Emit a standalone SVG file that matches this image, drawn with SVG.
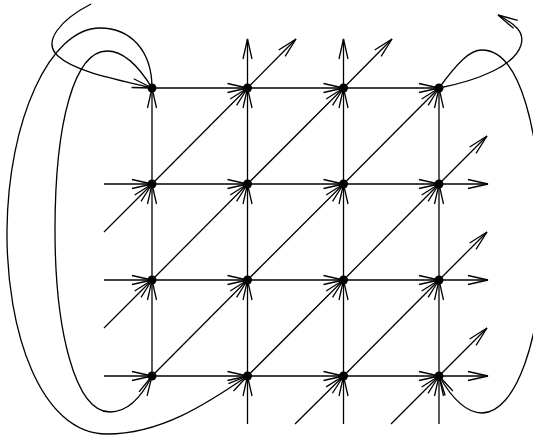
<svg xmlns="http://www.w3.org/2000/svg" width="533" height="437" viewBox="0 0 533 437">
<defs>
<marker id="ah" markerUnits="userSpaceOnUse" markerWidth="30" markerHeight="30" refX="0" refY="0" orient="auto" overflow="visible" viewBox="-25 -10 30 20">
<path d="M-20,-4.5 L0,0 L-20,4.5" fill="none" stroke="#000" stroke-width="1.3"/>
</marker>
<style>
.e{stroke:#000;stroke-width:1.3;fill:none;marker-end:url(#ah)}
.c{stroke:#000;stroke-width:1.3;fill:none}
.n{fill:#000}
</style>
</defs>
<rect width="533" height="437" fill="#fff"/>
<g id="connectors">
<line class="e" x1="152" y1="88" x2="247.5" y2="88"/>
<line class="e" x1="247.5" y1="88" x2="343.5" y2="88"/>
<line class="e" x1="343.5" y1="88" x2="439" y2="88"/>
<line class="e" x1="104" y1="184" x2="152" y2="184"/>
<line class="e" x1="152" y1="184" x2="247.5" y2="184"/>
<line class="e" x1="247.5" y1="184" x2="343.5" y2="184"/>
<line class="e" x1="343.5" y1="184" x2="439" y2="184"/>
<line class="e" x1="439" y1="184" x2="488" y2="184"/>
<line class="e" x1="104" y1="280" x2="152" y2="280"/>
<line class="e" x1="152" y1="280" x2="247.5" y2="280"/>
<line class="e" x1="247.5" y1="280" x2="343.5" y2="280"/>
<line class="e" x1="343.5" y1="280" x2="439" y2="280"/>
<line class="e" x1="439" y1="280" x2="488" y2="280"/>
<line class="e" x1="104" y1="376" x2="152" y2="376"/>
<line class="e" x1="152" y1="376" x2="247.5" y2="376"/>
<line class="e" x1="247.5" y1="376" x2="343.5" y2="376"/>
<line class="e" x1="343.5" y1="376" x2="439" y2="376"/>
<line class="e" x1="439" y1="376" x2="488" y2="376"/>
<line class="e" x1="152" y1="376" x2="152" y2="280"/>
<line class="e" x1="152" y1="280" x2="152" y2="184"/>
<line class="e" x1="152" y1="184" x2="152" y2="88"/>
<line class="e" x1="247.5" y1="424" x2="247.5" y2="376"/>
<line class="e" x1="247.5" y1="376" x2="247.5" y2="280"/>
<line class="e" x1="247.5" y1="280" x2="247.5" y2="184"/>
<line class="e" x1="247.5" y1="184" x2="247.5" y2="88"/>
<line class="e" x1="247.5" y1="88" x2="247.5" y2="39"/>
<line class="e" x1="343.5" y1="424" x2="343.5" y2="376"/>
<line class="e" x1="343.5" y1="376" x2="343.5" y2="280"/>
<line class="e" x1="343.5" y1="280" x2="343.5" y2="184"/>
<line class="e" x1="343.5" y1="184" x2="343.5" y2="88"/>
<line class="e" x1="343.5" y1="88" x2="343.5" y2="39"/>
<line class="e" x1="439" y1="424" x2="439" y2="376"/>
<line class="e" x1="439" y1="376" x2="439" y2="280"/>
<line class="e" x1="439" y1="280" x2="439" y2="184"/>
<line class="e" x1="439" y1="184" x2="439" y2="88"/>
<line class="e" x1="104" y1="232" x2="152" y2="184"/>
<line class="e" x1="152" y1="184" x2="247.5" y2="88"/>
<line class="e" x1="247.5" y1="88" x2="296" y2="39"/>
<line class="e" x1="104" y1="328" x2="152" y2="280"/>
<line class="e" x1="152" y1="280" x2="247.5" y2="184"/>
<line class="e" x1="247.5" y1="184" x2="343.5" y2="88"/>
<line class="e" x1="343.5" y1="88" x2="392" y2="39"/>
<line class="e" x1="152" y1="376" x2="247.5" y2="280"/>
<line class="e" x1="247.5" y1="280" x2="343.5" y2="184"/>
<line class="e" x1="343.5" y1="184" x2="439" y2="88"/>
<line class="e" x1="247.5" y1="376" x2="343.5" y2="280"/>
<line class="e" x1="343.5" y1="280" x2="439" y2="184"/>
<line class="e" x1="439" y1="184" x2="487" y2="136"/>
<line class="e" x1="295" y1="424" x2="343.5" y2="376"/>
<line class="e" x1="343.5" y1="376" x2="439" y2="280"/>
<line class="e" x1="439" y1="280" x2="487" y2="232"/>
<line class="e" x1="391" y1="424" x2="439" y2="376"/>
<line class="e" x1="439" y1="376" x2="487" y2="328"/>
<path class="e" d="M91,4 C60,20 42,42 58,56 C75,72 120,80 152,88"/>
<path class="e" d="M152,88 C152,50 130,28 100,28 C50,28 8,120 7,230 C6,330 40,434 107,434 C160,434 205,405 247.5,376"/>
<path class="e" d="M152,88 C135,60 120,51 107,51 C75,51 55,120 55,230 C55,330 75,412 110,412 C130,412 144,392 152,376"/>
<path class="e" d="M439,88 C480,80 515,65 521,45 C525,32 515,24 498,15"/>
<path class="e" d="M439,88 C458,62 470,50 482,50 C520,50 541,130 542,240 C543,340 515,413 482,413 C465,413 450,395 439,376"/>
</g>
<g id="n00"><circle class="n" cx="152" cy="88" r="4.5"/></g>
<g id="n10"><circle class="n" cx="247.5" cy="88" r="4.5"/></g>
<g id="n20"><circle class="n" cx="343.5" cy="88" r="4.5"/></g>
<g id="n30"><circle class="n" cx="439" cy="88" r="4.5"/></g>
<g id="n01"><circle class="n" cx="152" cy="184" r="4.5"/></g>
<g id="n11"><circle class="n" cx="247.5" cy="184" r="4.5"/></g>
<g id="n21"><circle class="n" cx="343.5" cy="184" r="4.5"/></g>
<g id="n31"><circle class="n" cx="439" cy="184" r="4.5"/></g>
<g id="n02"><circle class="n" cx="152" cy="280" r="4.5"/></g>
<g id="n12"><circle class="n" cx="247.5" cy="280" r="4.5"/></g>
<g id="n22"><circle class="n" cx="343.5" cy="280" r="4.5"/></g>
<g id="n32"><circle class="n" cx="439" cy="280" r="4.5"/></g>
<g id="n03"><circle class="n" cx="152" cy="376" r="4.5"/></g>
<g id="n13"><circle class="n" cx="247.5" cy="376" r="4.5"/></g>
<g id="n23"><circle class="n" cx="343.5" cy="376" r="4.5"/></g>
<g id="n33"><circle class="n" cx="439" cy="376" r="4.5"/></g>
</svg>
